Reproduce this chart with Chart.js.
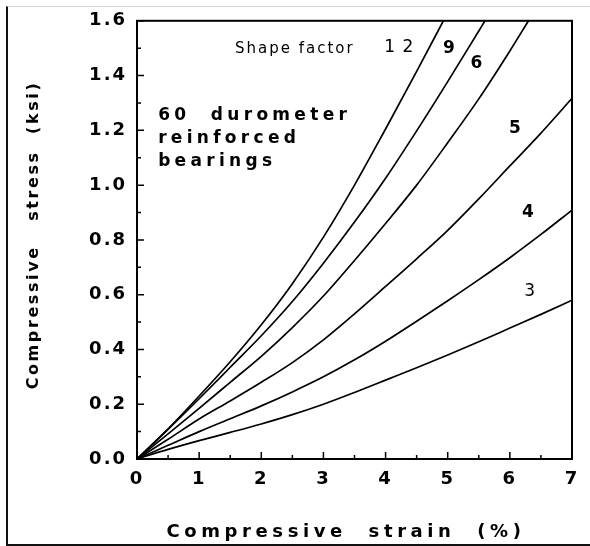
<!DOCTYPE html>
<html>
<head>
<meta charset="utf-8">
<title>Compressive stress vs strain</title>
<script src="https://cdn.jsdelivr.net/npm/chart.js@4"></script>
<style>
  html, body { margin: 0; padding: 0; background: #fff; overflow: hidden; }
  #wrap { position: relative; width: 590px; height: 546px; }
  #chart { position: absolute; left: 0; top: 0; }
  #frame {
    position: absolute; left: 6px; top: 6px; width: 590px; height: 537px;
    border-left: 2px solid #111; border-bottom: 2px solid #111; border-top: 1px solid #d8d8d8;
    pointer-events: none;
  }
</style>
</head>
<body>
<div id="wrap">
  <canvas id="chart" width="590" height="546"></canvas>
  <div id="frame"></div>
</div>
<script>
// strain (%) where the curves were read
const strainGrid = [0, 0.5, 1, 1.5, 2, 2.5, 3, 3.5, 4, 4.5, 5, 5.5, 6, 6.5, 7];

const shapeFactors = [3, 4, 5, 6, 9, 12];

// compressive stress (ksi) at each strainGrid point, per shape factor
const stressSf3  = [0, 0.035, 0.067, 0.097, 0.128, 0.162, 0.20, 0.243, 0.288, 0.333, 0.38, 0.428, 0.478, 0.528, 0.58];
const stressSf4  = [0, 0.05, 0.10, 0.147, 0.194, 0.245, 0.30, 0.362, 0.43, 0.503, 0.578, 0.655, 0.735, 0.82, 0.909];
const stressSf5  = [0, 0.072, 0.146, 0.212, 0.28, 0.352, 0.435, 0.53, 0.63, 0.731, 0.835, 0.95, 1.07, 1.19, 1.317];
const stressSf6  = [0, 0.092, 0.185, 0.28, 0.375, 0.48, 0.595, 0.725, 0.86, 1.0, 1.155, 1.315, 1.49];
const stressSf9  = [0, 0.108, 0.22, 0.335, 0.45, 0.575, 0.715, 0.865, 1.025, 1.198, 1.378, 1.563];
const stressSf12 = [0, 0.11, 0.23, 0.355, 0.49, 0.64, 0.81, 1.0, 1.205, 1.415];

// strain where the steep curves run out of the top of the plot (1.6 ksi)
const topOutStrain = [null, null, null, 6.30, 5.60, 4.93];

const xTicks = [0, 1, 2, 3, 4, 5, 6, 7];
const yTicks = [0, 0.2, 0.4, 0.6, 0.8, 1.0, 1.2, 1.4, 1.6];

const xTitle = "Compressive  strain  (%)";
const yTitle = "Compressive   stress  (ksi)";
const noteLines = ["60  durometer", "reinforced", "bearings"];

// curve labels, placed in data units (strain, stress)
const curveLabels = [
  { text: "Shape factor", x: 2.54, y: 1.497, bold: false, size: 15, ls: 2 },
  { text: "1 2", x: 4.22, y: 1.504, bold: false, size: 17, ls: 1 },
  { text: "9", x: 5.02, y: 1.50, bold: true, size: 17, ls: 0 },
  { text: "6", x: 5.46, y: 1.442, bold: true, size: 17, ls: 0 },
  { text: "5", x: 6.08, y: 1.208, bold: true, size: 17, ls: 0 },
  { text: "4", x: 6.29, y: 0.898, bold: true, size: 17, ls: 0 },
  { text: "3", x: 6.32, y: 0.61, bold: false, size: 17, ls: 0 }
];

const FONT = "'DejaVu Sans', 'Liberation Sans', Arial, sans-serif";
const allStress = [stressSf3, stressSf4, stressSf5, stressSf6, stressSf9, stressSf12];

const datasets = shapeFactors.map((sf, i) => {
  const pts = allStress[i].map((s, j) => ({ x: strainGrid[j], y: s }));
  if (topOutStrain[i] !== null) pts.push({ x: topOutStrain[i], y: 1.6 });
  return {
    label: "Shape factor " + sf,
    data: pts,
    borderColor: "#000",
    borderWidth: 1.7,
    pointRadius: 0,
    fill: false,
    cubicInterpolationMode: "monotone"
  };
});

function drawText(ctx, str, px, py, font, spacing, rotate){
  ctx.save();
  ctx.font = font;
  ctx.letterSpacing = spacing + "px";
  ctx.fillStyle = "#000";
  ctx.textBaseline = "middle";
  ctx.translate(px, py);
  if(rotate) ctx.rotate(-Math.PI / 2);
  ctx.textAlign = "center";
  ctx.fillText(str, 0, 0);
  ctx.restore();
}

const framePlugin = {
  id: "frameAndNotes",
  beforeDraw(chart){
    // tick labels in the original are widely tracked
    chart.ctx.letterSpacing = "2px";
  },
  afterDraw(chart){
    const ctx = chart.ctx;
    const a = chart.chartArea;
    const xs = chart.scales.x;
    const ys = chart.scales.y;

    ctx.save();
    ctx.letterSpacing = "0px";
    ctx.strokeStyle = "#000";
    ctx.lineWidth = 2;
    ctx.strokeRect(a.left, a.top, a.right - a.left, a.bottom - a.top);

    // inward tick marks, majors and half steps
    ctx.lineWidth = 1.5;
    ctx.beginPath();
    for(let k = 0; k <= 14; k++){
      const px = xs.getPixelForValue(k / 2);
      const len = k % 2 === 0 ? 7 : 4;
      ctx.moveTo(px, a.bottom);
      ctx.lineTo(px, a.bottom - len);
    }
    for(let k = 0; k <= 16; k++){
      const py = ys.getPixelForValue(k / 10);
      const len = k % 2 === 0 ? 7 : 4;
      ctx.moveTo(a.left, py);
      ctx.lineTo(a.left + len, py);
    }
    ctx.stroke();
    ctx.restore();

    // axis titles
    drawText(ctx, xTitle, 346, 532, "bold 18px " + FONT, 4.6, false);
    drawText(ctx, yTitle, 34, 235, "bold 16px " + FONT, 2.6, true);

    // block note
    ctx.save();
    ctx.font = "bold 17px " + FONT;
    ctx.letterSpacing = "4.3px";
    ctx.fillStyle = "#000";
    ctx.textAlign = "left";
    ctx.textBaseline = "alphabetic";
    const noteX = xs.getPixelForValue(0.34);
    noteLines.forEach((line, i) => {
      ctx.fillText(line, noteX, ys.getPixelForValue(1.238) + i * 23);
    });
    ctx.restore();

    curveLabels.forEach(l => {
      drawText(ctx, l.text, xs.getPixelForValue(l.x), ys.getPixelForValue(l.y),
        (l.bold ? "bold " : "") + l.size + "px " + FONT, l.ls, false);
    });
  }
};

new Chart(document.getElementById("chart"), {
  type: "line",
  data: { datasets },
  options: {
    responsive: false,
    animation: false,
    layout: { padding: { left: 0, right: 18, top: 20, bottom: 0 } },
    plugins: {
      legend: { display: false },
      tooltip: { enabled: false }
    },
    scales: {
      x: {
        type: "linear",
        min: 0,
        max: 7,
        afterBuildTicks: s => { s.ticks = xTicks.map(v => ({ value: v })); },
        afterFit: s => { s.height = 87; },
        grid: { display: false, drawTicks: false },
        border: { display: false },
        ticks: {
          color: "#000",
          padding: 10,
          font: { family: FONT, size: 18, weight: "bold" },
          callback: v => String(v)
        }
      },
      y: {
        type: "linear",
        min: 0,
        max: 1.6,
        afterBuildTicks: s => { s.ticks = yTicks.map(v => ({ value: v })); },
        afterFit: s => { s.width = 137; },
        grid: { display: false, drawTicks: false },
        border: { display: false },
        ticks: {
          color: "#000",
          padding: 10,
          font: { family: FONT, size: 18, weight: "bold" },
          callback: v => Number(v).toFixed(1)
        }
      }
    }
  },
  plugins: [framePlugin]
});
</script>
</body>
</html>
